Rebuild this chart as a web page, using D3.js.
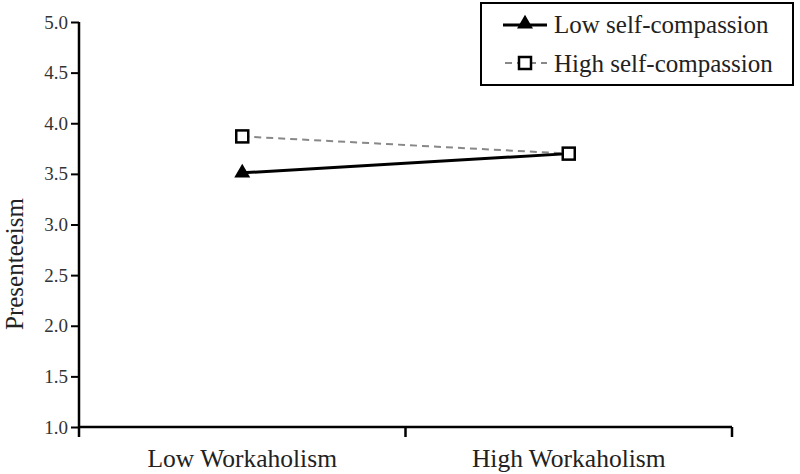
<!DOCTYPE html>
<html><head><meta charset="utf-8">
<script src="https://cdn.jsdelivr.net/npm/d3@7"></script>
<style>body{margin:0;background:#fff}svg{display:block}</style>
</head><body><svg id="c" width="800" height="474"></svg>
<script>
const categories = ["Low Workaholism", "High Workaholism"];
const lowSC = [3.51, 3.70];
const highSC = [3.87, 3.70];
const yTicks = [1.0, 1.5, 2.0, 2.5, 3.0, 3.5, 4.0, 4.5, 5.0];
const seriesNames = ["Low self-compassion", "High self-compassion"];

const FONT = "'Liberation Serif', Tinos, 'Times New Roman', Times, 'DejaVu Serif', serif";
const svg = d3.select("#c");
const L = 79, R = 732, T = 22, B = 427;
const x = d3.scaleBand().domain(categories).range([L, R]);
const y = d3.scaleLinear().domain([1, 5]).range([B, T]);

// y axis
const ya = svg.append("g").attr("transform", `translate(${L},0)`)
  .call(d3.axisLeft(y).tickValues(yTicks).tickFormat(d3.format(".1f")).tickSize(8).tickPadding(3));
ya.attr("font-family", FONT);
ya.select(".domain").attr("d", `M0,${T}V${B + 10}`).attr("stroke", "#000").attr("stroke-width", 2.5);
ya.selectAll(".tick line").attr("stroke", "#000").attr("stroke-width", 2);
ya.selectAll(".tick text").style("font-family", FONT).style("font-size", "19px").attr("fill", "#333");

// x axis
const xa = svg.append("g").attr("transform", `translate(0,${B})`)
  .call(d3.axisBottom(x).tickSize(0));
xa.attr("font-family", FONT);
xa.select(".domain").attr("d", `M${L},0H${R}`).attr("stroke", "#000").attr("stroke-width", 2.5);
xa.selectAll(".tick text").attr("y", 40).attr("dy", 0)
  .style("font-family", FONT).style("font-size", "25.5px").attr("fill", "#222");
// boundary ticks
const bounds = [x(categories[1]), R];
xa.selectAll(".bt").data(bounds).enter().append("line")
  .attr("x1", d => d).attr("x2", d => d).attr("y1", 0).attr("y2", 10)
  .attr("stroke", "#000").attr("stroke-width", 2.5);

// y label
svg.append("text").attr("transform", `translate(23,264) rotate(-90)`).attr("text-anchor", "middle")
  .style("font-family", FONT).style("font-size", "25px").attr("fill", "#222").text("Presenteeism");

const cx = d => x(d) + x.bandwidth() / 2;
const line = d3.line().x(d => cx(d.c)).y(d => y(d.v));
const dLow = categories.map((c, i) => ({c, v: lowSC[i]}));
const dHigh = categories.map((c, i) => ({c, v: highSC[i]}));

svg.append("path").datum(dHigh).attr("d", line).attr("fill", "none")
  .attr("stroke", "#888").attr("stroke-width", 2).attr("stroke-dasharray", "7,5");
svg.append("path").datum(dLow).attr("d", line).attr("fill", "none")
  .attr("stroke", "#000").attr("stroke-width", 3);

const tri = d3.symbol().type(d3.symbolTriangle).size(110);
svg.selectAll(".tri").data(dLow.slice(0, 1)).enter().append("path")
  .attr("d", tri).attr("transform", d => `translate(${cx(d.c)},${y(d.v)})`).attr("fill", "#000");
svg.selectAll(".sq").data(dHigh).enter().append("rect")
  .attr("x", d => cx(d.c) - 6).attr("y", d => y(d.v) - 6).attr("width", 12).attr("height", 12)
  .attr("fill", "#fff").attr("stroke", "#000").attr("stroke-width", 2.5);

// legend
const lg = svg.append("g");
lg.append("rect").attr("x", 481).attr("y", 3).attr("width", 312).attr("height", 82)
  .attr("fill", "#fff").attr("stroke", "#000").attr("stroke-width", 2);
lg.append("line").attr("x1", 503).attr("x2", 547).attr("y1", 25).attr("y2", 25).attr("stroke", "#000").attr("stroke-width", 3);
lg.append("path").attr("d", tri).attr("transform", "translate(525,24)").attr("fill", "#000");
lg.append("line").attr("x1", 503).attr("x2", 547).attr("y1", 63).attr("y2", 63).attr("stroke", "#888").attr("stroke-width", 2).attr("stroke-dasharray", "7,5").attr("stroke-dashoffset", "-2");
lg.append("rect").attr("x", 519).attr("y", 57).attr("width", 12).attr("height", 12).attr("fill", "#fff").attr("stroke", "#000").attr("stroke-width", 2.5);
lg.selectAll(".lt").data(seriesNames).enter().append("text")
  .attr("x", 554).attr("y", (d, i) => i === 0 ? 33 : 72)
  .style("font-family", FONT).style("font-size", "25px").attr("fill", "#222").text(d => d);
</script></body></html>
